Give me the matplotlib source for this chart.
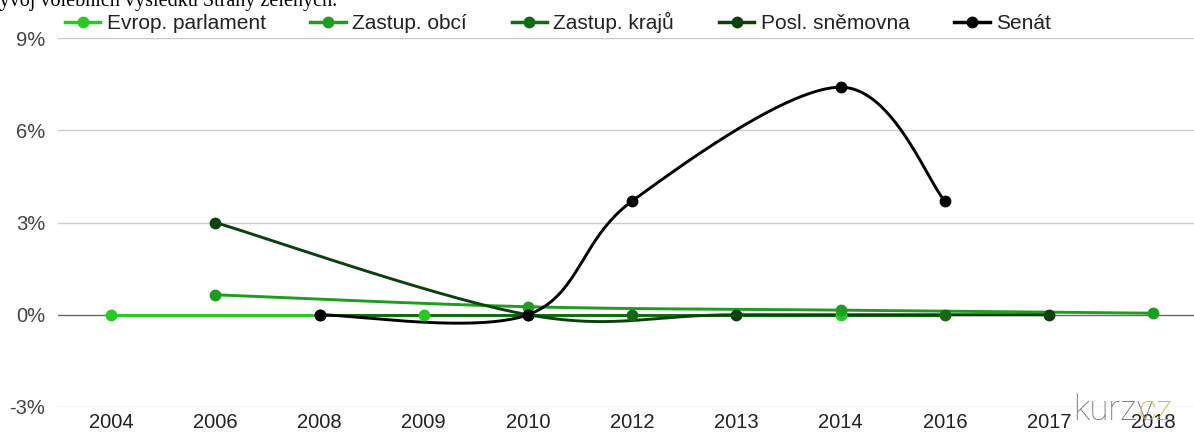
import numpy as np
import matplotlib.pyplot as plt
from matplotlib.lines import Line2D

# categories on the x axis
years = ['2004', '2006', '2008', '2009', '2010', '2012', '2013', '2014', '2016', '2017', '2018']

# series (year, value in %)
evrop_years = ['2004', '2009', '2014']
evrop_vals = [0.0, 0.0, 0.0]

obce_years = ['2006', '2010', '2014', '2018']
obce_vals = [0.65, 0.26, 0.15, 0.05]

kraje_years = ['2008', '2012', '2016']
kraje_vals = [0.0, 0.0, 0.0]

psp_years = ['2006', '2010', '2013', '2017']
psp_vals = [3.0, 0.0, 0.0, 0.0]

senat_years = ['2008', '2010', '2012', '2014', '2016']
senat_vals = [0.0, 0.0, 3.7, 7.4, 3.7]

names = ['Evrop. parlament', 'Zastup. obcí', 'Zastup. krajů', 'Posl. sněmovna', 'Senát']
colors = ['#22cc22', '#1e9e1e', '#116b11', '#0a430a', '#000000']
series = [(evrop_years, evrop_vals), (obce_years, obce_vals), (kraje_years, kraje_vals),
          (psp_years, psp_vals), (senat_years, senat_vals)]


def smooth(xs, ys, t=1/6, n=50):
    # cardinal-spline style bezier, similar to google charts curveType 'function'
    pts = np.column_stack([xs, ys]).astype(float)
    out = []
    for i in range(len(pts) - 1):
        p0 = pts[max(i - 1, 0)]
        p1 = pts[i]
        p2 = pts[i + 1]
        p3 = pts[min(i + 2, len(pts) - 1)]
        c1 = p1 + (p2 - p0) * t
        c2 = p2 - (p3 - p1) * t
        s = np.linspace(0, 1, n)[:, None]
        seg = (1 - s)**3 * p1 + 3 * (1 - s)**2 * s * c1 + 3 * (1 - s) * s**2 * c2 + s**3 * p2
        out.append(seg)
    return np.vstack(out)


plt.rcParams['font.family'] = ['Liberation Sans', 'DejaVu Sans']

fig = plt.figure(figsize=(11.94, 4.34), dpi=100)
ax = fig.add_axes([58 / 1194, 1 - 407 / 434, 1 - 58 / 1194, (407 - 38) / 434])

for (yrs, vals), name, col in zip(series, names, colors):
    xs = [years.index(y) for y in yrs]
    curve = smooth(xs, vals)
    ax.plot(curve[:, 0], curve[:, 1], color=col, lw=2.1, solid_capstyle='round', zorder=3)
    ax.plot(xs, vals, 'o', color=col, ms=7.5, zorder=4)

ax.set_ylim(-3, 9)
ax.set_xlim(-0.509, 10.39)
ax.set_yticks([-3, 0, 3, 6, 9])
ax.set_yticklabels(['-3%', '0%', '3%', '6%', '9%'])
ax.set_xticks(range(len(years)))
ax.set_xticklabels(years)
ax.tick_params(axis='y', length=0, pad=9, labelsize=14.5, labelcolor='#444444')
ax.tick_params(axis='x', length=0, pad=4, labelsize=14.5, labelcolor='#222222')
for sp in ax.spines.values():
    sp.set_visible(False)
for v in [-3, 3, 6, 9]:
    ax.axhline(v, color='#cccccc', lw=1, zorder=1)
ax.axhline(0, color='#666666', lw=1, zorder=2)

handles = [Line2D([], [], color=c, lw=2.5, marker='o', ms=7.5) for c in colors]
fig.legend(handles, names, loc='center left', bbox_to_anchor=(65 / 1194, 1 - 22.5 / 434),
           ncol=5, frameon=False, fontsize=15, handlelength=1.7, handletextpad=0.3,
           columnspacing=2.15, labelcolor='#222222', borderaxespad=0, borderpad=0)

# cut-off text above the chart
fig.text(-15 / 1194, 1 - 6 / 434, 'Vývoj volebních výsledků Strany zelených.', family='Liberation Serif',
         fontsize=14.5, va='baseline', ha='left', color='#000000')

# watermark
fig.text(1073 / 1194, 1 - 410 / 434, 'kurzy', fontsize=25, color='#777777', va='center',
         ha='left', family='Roboto', fontweight='light')
fig.text(1138 / 1194, 1 - 410 / 434, 'cz', fontsize=25, color='#e0b040', va='center',
         ha='left', family='Roboto', fontweight='light')

fig.savefig('out.png', dpi=100)
